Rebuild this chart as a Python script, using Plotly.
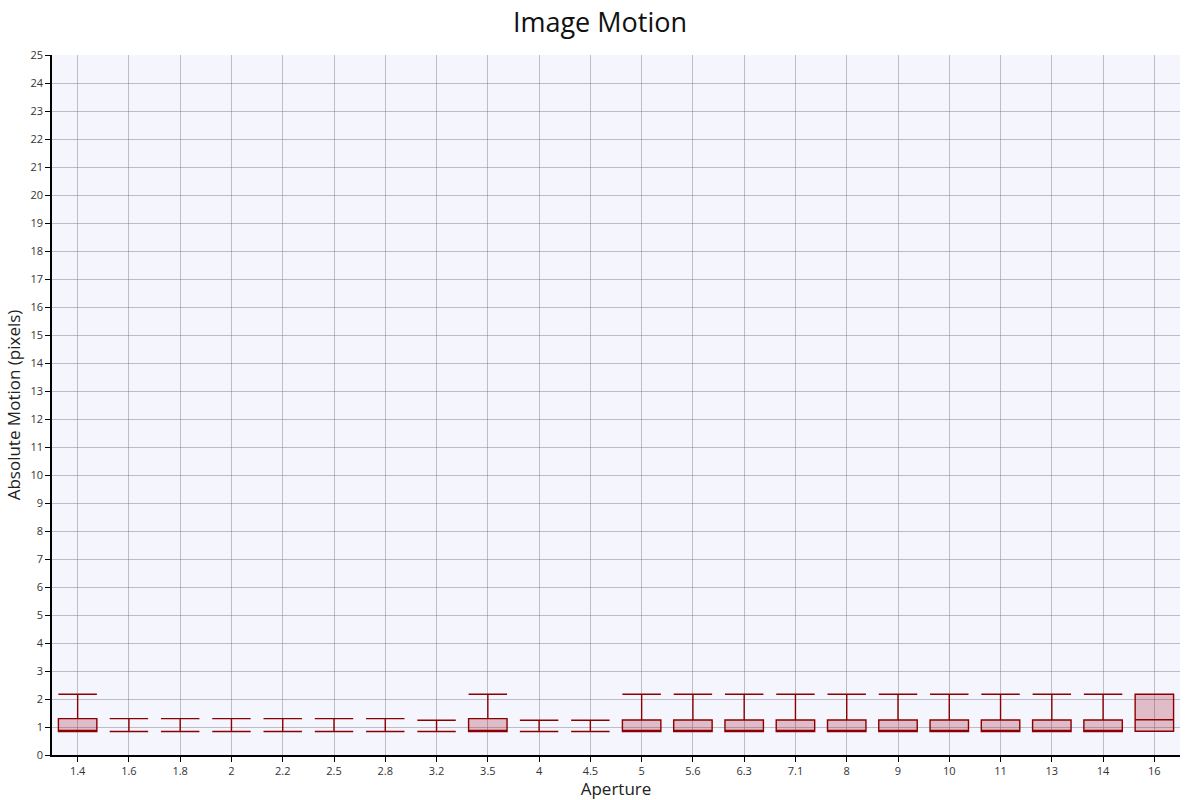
import plotly.graph_objects as go

apertures = ["1.4", "1.6", "1.8", "2", "2.2", "2.5", "2.8", "3.2", "3.5", "4", "4.5",
             "5", "5.6", "6.3", "7.1", "8", "9", "10", "11", "13", "14", "16"]
lower_whisker = [0.84] * 21 + [0.85]
q1_values = [0.84] * 21 + [0.85]
median_values = [0.84] * 21 + [1.26]
q3_values = [1.30, 0.84, 0.84, 0.84, 0.84, 0.84, 0.84, 0.84, 1.30, 0.84, 0.84,
             1.25, 1.25, 1.25, 1.25, 1.25, 1.25, 1.25, 1.25, 1.25, 1.25, 2.17]
upper_whisker = [2.17, 1.30, 1.30, 1.30, 1.30, 1.30, 1.30, 1.24, 2.17, 1.24, 1.24,
                 2.17, 2.17, 2.17, 2.17, 2.17, 2.17, 2.17, 2.17, 2.17, 2.17, 2.17]
y_ticks = list(range(0, 26))

fig = go.Figure()
fig.add_trace(go.Box(
    x=apertures,
    q1=q1_values,
    median=median_values,
    q3=q3_values,
    lowerfence=lower_whisker,
    upperfence=upper_whisker,
    fillcolor="rgba(160,20,40,0.25)",
    line=dict(color="#8b0000", width=1.4),
    whiskerwidth=1,
    showlegend=False,
    hoverinfo="y",
))

fig.update_layout(
    width=1200, height=800,
    title=dict(text="Image Motion", x=0.5, xanchor="center", y=0.972, yanchor="middle",
               font=dict(family="Open Sans", size=27, color="#111")),
    font=dict(family="Open Sans", size=11, color="#333"),
    paper_bgcolor="white",
    plot_bgcolor="#f5f5fd",
    margin=dict(l=52, r=20, t=55, b=45, autoexpand=False),
    boxgap=0.25,
    boxgroupgap=0,
    xaxis=dict(
        title=dict(text="Aperture", font=dict(size=17, color="#222"), standoff=2),
        type="category", automargin=False,
        showline=True, linecolor="black", linewidth=1.5,
        ticks="outside", ticklen=5, tickcolor="black",
        showgrid=True, gridcolor="rgba(120,120,140,0.45)", gridwidth=1,
        tickfont=dict(size=11, color="#333"),
    ),
    yaxis=dict(
        title=dict(text="Absolute Motion (pixels)", font=dict(size=17, color="#222"), standoff=6),
        range=[0, 25], tickvals=y_ticks, ticktext=[str(v) for v in y_ticks],
        automargin=False,
        showline=True, linecolor="black", linewidth=1.5,
        ticks="outside", ticklen=5, tickcolor="black",
        showgrid=True, gridcolor="rgba(120,120,140,0.45)", gridwidth=1,
        zeroline=False,
        tickfont=dict(size=11, color="#333"),
    ),
)

fig.write_html("out.html",
               config={"displayModeBar": False},
               post_script="document.body.style.margin='0';document.body.style.overflow='hidden';")
